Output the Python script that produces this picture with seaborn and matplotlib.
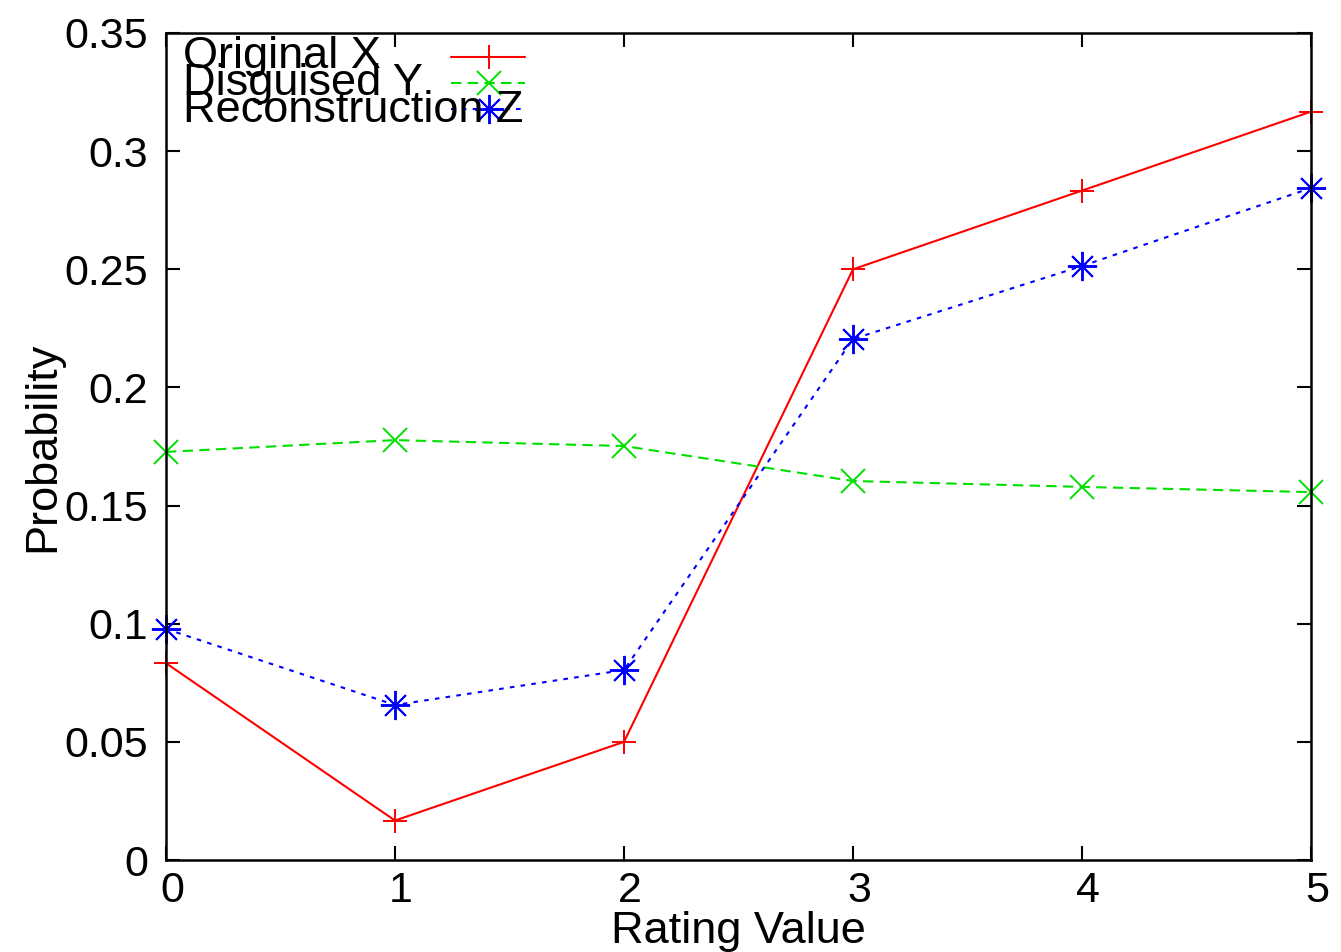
import matplotlib
matplotlib.use("Agg")
import matplotlib.pyplot as plt
import matplotlib.transforms as mtransforms
from matplotlib.lines import Line2D
import seaborn as sns
import pandas as pd

ratings = [0, 1, 2, 3, 4, 5]
original_x = [0.0833, 0.0167, 0.0500, 0.2500, 0.2833, 0.3167]
disguised_y = [0.1727, 0.1777, 0.1752, 0.1604, 0.1579, 0.1557]
reconstruction_z = [0.0978, 0.0656, 0.0804, 0.2205, 0.2514, 0.2844]
series_names = ["Original X", "Disguised Y", "Reconstruction Z"]
y_ticks = [0, 0.05, 0.1, 0.15, 0.2, 0.25, 0.3, 0.35]
y_tick_labels = ["0", "0.05", "0.1", "0.15", "0.2", "0.25", "0.3", "0.35"]

sns.set_style("white")
plt.rcParams["font.family"] = ["Liberation Sans", "DejaVu Sans"]
FS = 31
FS_LABEL = 32.5

W, H = 1341, 952
fig = plt.figure(figsize=(W / 100, H / 100), dpi=100)
ax = fig.add_axes([166 / W, 1 - 860 / H, (1311 - 166) / W, (860 - 33) / H])

styles = [
    dict(color="#ff0000", linestyle="-", marker="+", markersize=17),
    dict(color="#00e000", linestyle=(0, (5, 3)), marker="x", markersize=17),
    dict(color="#0000ff", linestyle=(0, (2.2, 3)), marker=(8, 2, 0), markersize=21),
]
for name, vals, st in zip(series_names, [original_x, disguised_y, reconstruction_z], styles):
    df = pd.DataFrame({"Rating": ratings, "Prob": vals})
    sns.lineplot(data=df, x="Rating", y="Prob", ax=ax, lw=1.5, clip_on=False,
                 mec=st["color"], mew=1.4, legend=False, **st)

ax.set_xlim(0, 5)
ax.set_ylim(0, 0.35)
ax.set_xticks(ratings)
ax.set_xticklabels([str(r) for r in ratings])
ax.set_yticks(y_ticks)
ax.set_yticklabels(y_tick_labels)
ax.tick_params(direction="in", length=10, width=1.5, labelsize=FS, top=True, right=True,
               bottom=True, left=True, colors="black")
ax.tick_params(axis="x", pad=8)
ax.tick_params(axis="y", pad=13)
offset = mtransforms.ScaledTranslation(6 / 100, 0, fig.dpi_scale_trans)
for lbl in ax.get_xticklabels():
    lbl.set_transform(lbl.get_transform() + offset)
for s in ax.spines.values():
    s.set_visible(True)
    s.set_linewidth(1.8)
    s.set_color("black")

ax.set_xlabel("Rating Value", fontsize=FS_LABEL, labelpad=0, color="black")
ax.set_ylabel("Probability", fontsize=FS_LABEL, labelpad=1, color="black")

# gnuplot-style key: text left, sample on the right, rows tightly packed
text_x = 183
sample_x0, sample_x1, marker_x = 451, 525, 489
rows_baseline = [68, 95, 122]
rows_sample = [57, 83, 109]
for name, st, yb, ys in zip(series_names, styles, rows_baseline, rows_sample):
    fig.text(text_x / W, 1 - yb / H, name, fontsize=FS_LABEL, ha="left", va="baseline",
             color="black")
    fig.add_artist(Line2D([sample_x0 / W, sample_x1 / W], [1 - ys / H, 1 - ys / H],
                          transform=fig.transFigure, color=st["color"],
                          linestyle=st["linestyle"], lw=1.5))
    fig.add_artist(Line2D([marker_x / W], [1 - ys / H], transform=fig.transFigure,
                          color=st["color"], linestyle="none", marker=st["marker"],
                          markersize=st["markersize"], mew=1.4, mec=st["color"]))

fig.savefig("out.png", dpi=100)
